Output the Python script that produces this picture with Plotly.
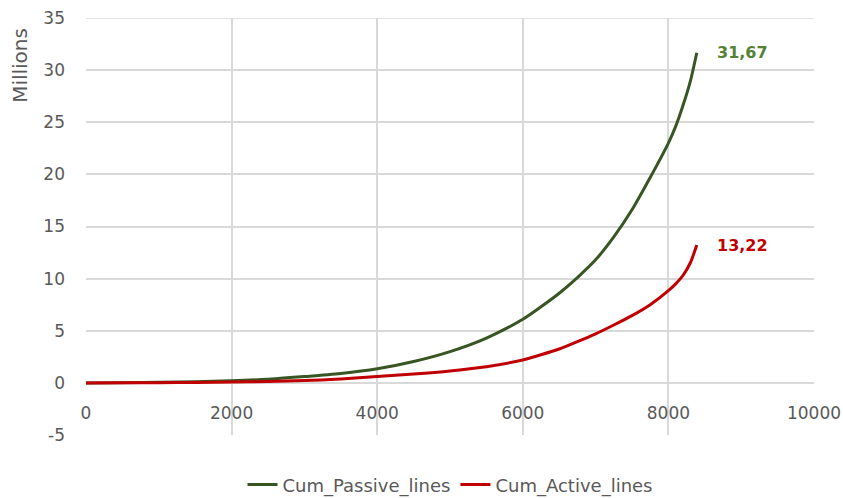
import plotly.graph_objects as go

x_vals = [0, 500, 1000, 1500, 2000, 2500, 3000, 3500, 4000, 4500, 5000, 5500,
          6000, 6250, 6500, 6750, 7000, 7250, 7500, 7750, 8000, 8100, 8200, 8300, 8390]
passive = [0, 0.02, 0.05, 0.11, 0.2, 0.35, 0.6, 0.9, 1.35, 2.05, 3.0, 4.3,
           6.1, 7.3, 8.6, 10.1, 11.8, 14.0, 16.6, 19.7, 23.0, 24.6, 26.6, 28.9, 31.67]
active = [0, 0.01, 0.02, 0.04, 0.08, 0.14, 0.22, 0.38, 0.6, 0.85, 1.15, 1.55,
          2.2, 2.7, 3.25, 3.95, 4.7, 5.55, 6.45, 7.5, 8.85, 9.5, 10.3, 11.5, 13.22]
series_names = ["Cum_Passive_lines", "Cum_Active_lines"]
end_labels = ["31,67", "13,22"]
x_ticks = [0, 2000, 4000, 6000, 8000, 10000]
x_tick_text = ["0", "2000", "4000", "6000", "8000", "10000"]
y_ticks = [-5, 0, 5, 10, 15, 20, 25, 30, 35]
y_tick_text = ["-5", "0", "5", "10", "15", "20", "25", "30", "35"]

line_colors = ["#375623", "#C00000"]
label_colors = ["#548235", "#C00000"]
font = "DejaVu Sans"
gray = "#595959"
grid = "#D9D9D9"

fig = go.Figure()
for name, ys, c in zip(series_names, [passive, active], line_colors):
    fig.add_trace(go.Scatter(x=x_vals, y=ys, mode="lines", name=name,
                             line=dict(color=c, width=3, shape="spline", smoothing=0.8)))

for ys, lab, c in zip([passive, active], end_labels, label_colors):
    fig.add_annotation(x=x_vals[-1], y=ys[-1], text="<b>" + lab + "</b>",
                       showarrow=False, xanchor="left", yanchor="middle",
                       xshift=18, yshift=0, font=dict(family=font, size=16, color=c))

fig.add_annotation(xref="paper", yref="paper", x=-0.091, y=0.887, text="Millions",
                   textangle=-90, showarrow=False, xanchor="center", yanchor="middle",
                   font=dict(family=font, size=20, color=gray))

# top border gridline (plotly drops the gridline at the range edge)
fig.add_hline(y=y_ticks[-1], line=dict(color=grid, width=1.5), layer="below")

fig.update_layout(
    width=843, height=498,
    margin=dict(l=86, r=29, t=18, b=63, autoexpand=False),
    plot_bgcolor="white", paper_bgcolor="white",
    font=dict(family=font, size=17, color=gray),
    showlegend=True,
    legend=dict(orientation="h", x=0.5, xanchor="center", y=-0.075, yanchor="top",
                font=dict(family=font, size=18, color=gray)),
    xaxis=dict(range=[0, 10000], tickvals=x_ticks, ticktext=x_tick_text,
               showgrid=True, gridcolor=grid, gridwidth=1.5, automargin=False,
               zeroline=False, showline=False, anchor="free", position=0.125,
               ticks="", ticklabelstandoff=18, tickfont=dict(family=font, size=17, color=gray)),
    yaxis=dict(range=[-5, 35], tickvals=y_ticks, ticktext=y_tick_text,
               showgrid=True, gridcolor=grid, gridwidth=1.5, automargin=False,
               zeroline=False, showline=False, ticks="", ticklabelstandoff=20,
               tickfont=dict(family=font, size=17, color=gray)),
)

fig.write_html("out.html", config={"displayModeBar": False},
               post_script="document.body.style.margin='0';document.body.style.overflow='hidden';")
